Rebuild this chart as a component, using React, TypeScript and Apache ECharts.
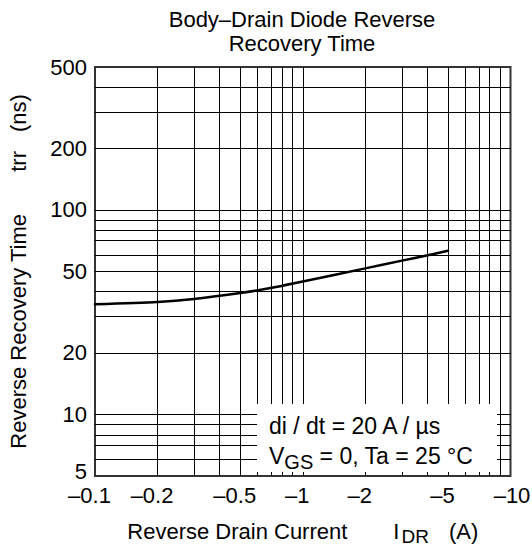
import React, { useEffect, useRef } from "react";
import * as echarts from "echarts";

const FONT = "Liberation Sans";

// Axis tick labels (magnitude of reverse drain current, A) and trr (ns)
const X_TICKS = [0.1, 0.2, 0.5, 1, 2, 5, 10];
const Y_TICKS = [5, 10, 20, 50, 100, 200, 500];

// Log-grid lines inside the plot
const X_GRID = [0.2, 0.3, 0.4, 0.5, 0.6, 0.7, 0.8, 0.9, 1, 2, 3, 4, 5, 6, 7, 8, 9];
const Y_GRID = [6, 7, 8, 9, 10, 20, 30, 40, 50, 60, 70, 80, 90, 100, 200, 300, 400];

// Curve: |I_DR| (A) vs trr (ns)
const CURRENT = [0.1, 0.2, 0.3, 0.5, 0.7, 1, 2, 3, 4, 5];
const TRR = [34.6, 35.5, 36.7, 39.2, 41.5, 44.7, 51.8, 56.5, 60.1, 63.1];

const lg = (v: number) => Math.log10(v);
const fmt = (v: number) => String(parseFloat(v.toPrecision(6)));

const textBase = { fontFamily: FONT, fontSize: 22, color: "#000" };

export default function App() {
  const ref = useRef<HTMLDivElement>(null);

  useEffect(() => {
    document.body.style.margin = "0";
    const chart = echarts.init(ref.current!, null, { renderer: "svg" });
    const xMax = X_TICKS[X_TICKS.length - 1];
    const yMin = Y_TICKS[0];
    const option: any = {
      animation: false,
      title: {
        text: "Body–Drain Diode Reverse\nRecovery Time",
        left: 302,
        top: 7,
        padding: 0,
        textAlign: "center",
        textStyle: { ...textBase, fontSize: 22, fontWeight: "normal", lineHeight: 24 },
      },
      grid: {
        left: 95,
        right: 21.5,
        top: 67,
        bottom: 72,
        show: true,
        borderColor: "#333",
        borderWidth: 2,
        backgroundColor: "transparent",
        containLabel: false,
        outerBoundsMode: "none",
      },
      xAxis: {
        type: "value",
        min: lg(X_TICKS[0]),
        max: lg(xMax),
        axisLine: { show: false },
        axisTick: { show: false },
        splitLine: { show: false },
        axisLabel: {
          ...textBase,
          margin: 8,
          customValues: X_TICKS.map(lg),
          formatter: (v: number) => {
            const n = Math.pow(10, v);
            const s = "–" + fmt(n);
            return Math.abs(n - xMax) < 1e-6 ? "{e|" + s + "}" : "{a|" + s + "}";
          },
          rich: {
            a: { ...textBase, padding: [0, 11, 0, 0] },
            e: { ...textBase, padding: [0, 0, 0, 3] },
          },
        },
        name: "{n|Reverse Drain Current}{i|I}{s|DR}{p|(A)}",
        nameLocation: "middle",
        nameGap: 40,
        nameTextStyle: {
          ...textBase,
          rich: {
            n: { ...textBase },
            i: { ...textBase, padding: [0, 0, 0, 46] },
            s: { ...textBase, fontSize: 19, padding: [11, 0, 0, 2] },
            p: { ...textBase, padding: [0, 0, 0, 20] },
          },
        },
      },
      yAxis: {
        type: "value",
        min: lg(yMin),
        max: lg(Y_TICKS[Y_TICKS.length - 1]),
        axisLine: { show: false },
        axisTick: { show: false },
        splitLine: { show: false },
        axisLabel: {
          ...textBase,
          margin: 8,
          customValues: Y_TICKS.map(lg),
          formatter: (v: number) => {
            const n = Math.round(Math.pow(10, v));
            return n === yMin ? "{b|" + n + "}" : "{a|" + n + "}";
          },
          rich: {
            a: { ...textBase },
            b: { ...textBase, padding: [0, 0, 10, 0] },
          },
        },
        name: "{n|Reverse Recovery Time}{a|trr}{b|(ns)}",
        nameLocation: "middle",
        nameGap: 66,
        nameTextStyle: {
          ...textBase,
          rich: {
            n: { ...textBase },
            a: { ...textBase, padding: [0, 0, 0, 42] },
            b: { ...textBase, padding: [0, 0, 0, 19] },
          },
        },
      },
      series: [
        {
          type: "line",
          data: [],
          z: 1,
          silent: true,
          markLine: {
            silent: true,
            symbol: ["none", "none"],
            label: { show: false },
            emphasis: { disabled: true },
            animation: false,
            lineStyle: { color: "#000", width: 1, type: "solid", opacity: 1 },
            data: [
              ...X_GRID.map((v) => ({ xAxis: lg(v) })),
              ...Y_GRID.map((v) => ({ yAxis: lg(v) })),
            ],
          },
        },
        {
          type: "line",
          z: 5,
          smooth: 0.25,
          showSymbol: false,
          symbol: "none",
          silent: true,
          lineStyle: { color: "#000", width: 2.5, cap: "round", join: "round" },
          data: CURRENT.map((c, i) => [lg(c), lg(TRR[i])]),
        },
      ],
      graphic: [
        {
          type: "rect",
          z: 10,
          shape: { x: 257, y: 404, width: 240, height: 68 },
          style: { fill: "#fff" },
        },
        {
          type: "text",
          z: 11,
          x: 269,
          y: 426,
          style: {
            text: "di / dt = 20 A / µs",
            fontFamily: FONT,
            fontSize: 23,
            fill: "#000",
            align: "left",
            verticalAlign: "middle",
          },
        },
        {
          type: "text",
          z: 11,
          x: 269,
          y: 456,
          style: {
            text: "{n|V}{s|GS}{n| = 0, Ta = 25 °C}",
            fontFamily: FONT,
            fontSize: 23,
            fill: "#000",
            align: "left",
            verticalAlign: "middle",
            rich: {
              n: { fontFamily: FONT, fontSize: 23, fill: "#000" },
              s: { fontFamily: FONT, fontSize: 20, fill: "#000", padding: [11, 0, 0, 0] },
            },
          },
        },
      ],
    };
    chart.setOption(option);
    return () => chart.dispose();
  }, []);

  return <div ref={ref} style={{ width: 532, height: 548 }} />;
}
